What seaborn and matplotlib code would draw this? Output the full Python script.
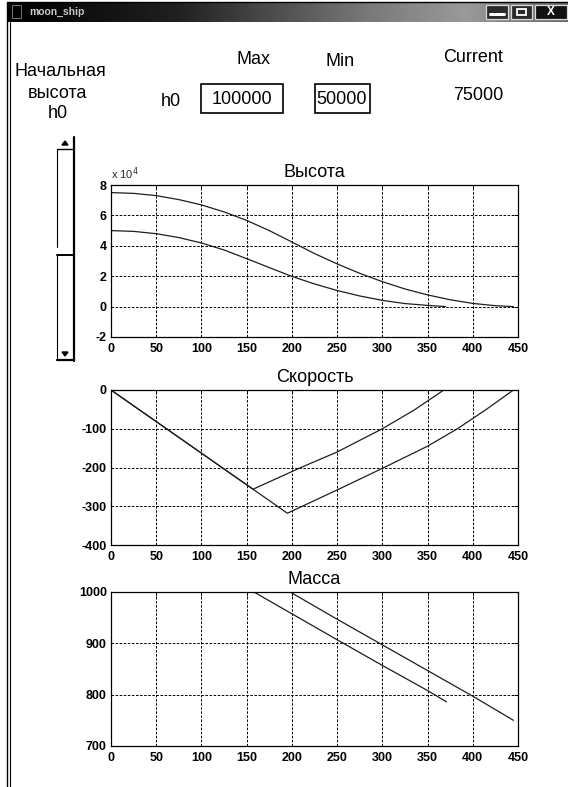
import matplotlib
matplotlib.use('Agg')
import matplotlib.pyplot as plt
from matplotlib.lines import Line2D
from matplotlib.patches import Rectangle, Polygon
from matplotlib.colors import LinearSegmentedColormap
import numpy as np
import seaborn as sns

# height, m (two runs: h0 = 75000 and h0 = 50000)
t_h_hi = [0, 25, 50, 75, 100, 125, 150, 175, 195, 225, 250, 275, 300, 325, 350, 375, 400, 425, 445]
h_hi = [75000, 74500, 73000, 70400, 66900, 62300, 56700, 50000, 44000, 34900, 28100,
        21900, 16400, 11600, 7700, 4500, 2100, 600, 0]
t_h_lo = [0, 25, 50, 75, 100, 125, 157, 180, 200, 225, 250, 275, 300, 325, 350, 370]
h_lo = [50000, 49490, 47960, 45420, 41850, 37270, 29910, 24500, 19870, 14900, 10600,
        7000, 4100, 2000, 800, 0]

# speed, m/s
t_v_hi = [0, 195, 250, 302, 350, 383, 415, 445]
v_hi = [0, -318, -258, -200, -145, -100, -50, 0]
t_v_lo = [0, 157, 210, 250, 300, 335, 368]
v_lo = [0, -256, -200, -160, -100, -52, 0]

# mass, kg
t_m_hi = [198, 250, 300, 350, 400, 445]
m_hi = [1000, 947, 897, 847, 797, 750]
t_m_lo = [158, 250, 300, 350, 371]
m_lo = [1000, 907, 857, 808, 786]

x_ticks = [0, 50, 100, 150, 200, 250, 300, 350, 400, 450]

sns.set_theme(style='white')
plt.rcParams['font.family'] = ['Liberation Sans', 'DejaVu Sans']

W, H = 568, 787
fig = plt.figure(figsize=(W / 100, H / 100), dpi=100)
fig.patch.set_facecolor('white')


def fx(x):
    return x / W


def fy(y):
    return 1 - y / H


def hline(x0, x1, y, lw=1.0, color='black'):
    fig.add_artist(Line2D([fx(x0), fx(x1)], [fy(y), fy(y)], lw=lw, color=color))


def vline(x, y0, y1, lw=1.0, color='black'):
    fig.add_artist(Line2D([fx(x), fx(x)], [fy(y0), fy(y1)], lw=lw, color=color))


def rect(x0, y0, x1, y1, **kw):
    fig.add_artist(Rectangle((fx(x0), fy(y1)), fx(x1) - fx(x0), fy(y0) - fy(y1),
                             transform=fig.transFigure, **kw))


# window chrome
bar = fig.add_axes([fx(8), fy(22), fx(W) - fx(8), fy(2) - fy(22)])
cmap = LinearSegmentedColormap.from_list(
    'bar', [(0, '#000000'), (0.3, '#202020'), (0.65, '#7a7a7a'), (0.82, '#9a9a9a'), (1, '#6a6a6a')])
bar.imshow(np.linspace(0, 1, 300)[None, :], aspect='auto', cmap=cmap, extent=[0, 1, 0, 1])
bar.set_axis_off()
rect(12, 5, 21, 18, facecolor='black', edgecolor='#888888', lw=0.6)
fig.text(fx(29), fy(11.5), 'moon_ship', fontsize=7.5, fontweight='bold', color='#c8c8c8',
         va='center', ha='left')
# title bar buttons
rect(486, 5, 508, 19, facecolor='#2a2a2a', edgecolor='#d8d8d8', lw=0.9)
hline(490, 504, 14, lw=2.2, color='white')
rect(511, 5, 532, 19, facecolor='#2a2a2a', edgecolor='#d8d8d8', lw=0.9)
rect(517, 9, 526, 15, facecolor='none', edgecolor='white', lw=1.3)
rect(535, 5, 567, 19, facecolor='#111111', edgecolor='#d8d8d8', lw=0.9)
fig.text(fx(551), fy(12), 'X', fontsize=8.5, fontweight='bold', color='white',
         va='center', ha='center')
hline(7, W, 2, lw=1.0)
vline(7, 2, H, lw=1.0)
vline(10, 22, H, lw=0.8)

# controls
txt = dict(fontsize=13, color='black', ha='center', va='center')
fig.text(fx(253), fy(60), 'Max', **txt)
fig.text(fx(340), fy(61), 'Min', **txt)
fig.text(fx(473), fy(58), 'Current', **txt)
fig.text(fx(60), fy(72), 'Начальная', **txt)
fig.text(fx(57), fy(93), 'высота', **txt)
fig.text(fx(58), fy(114), 'h0', **txt)
fig.text(fx(171), fy(101), 'h0', **txt)
rect(201, 84, 283, 113, facecolor='white', edgecolor='black', lw=1.2)
fig.text(fx(242), fy(99), '100000', **txt)
rect(315, 84, 370, 113, facecolor='white', edgecolor='black', lw=1.2)
fig.text(fx(342), fy(99), '50000', **txt)
fig.text(fx(478), fy(95), '75000', **txt)

# slider
vline(74, 137, 361, lw=1.6)
vline(57, 149, 247, lw=0.8)
vline(57, 255, 360, lw=0.8)
hline(57, 74, 149, lw=1.0)
hline(57, 74, 255, lw=1.4)
hline(57, 74, 360, lw=1.6)
fig.add_artist(Polygon([[fx(62), fy(145)], [fx(68), fy(145)], [fx(65), fy(141)]],
                       closed=True, color='black', transform=fig.transFigure))
fig.add_artist(Polygon([[fx(62), fy(352)], [fx(68), fy(352)], [fx(65), fy(356)]],
                       closed=True, color='black', transform=fig.transFigure))

line_kw = dict(color='#1e1e1e', linewidth=0.9, estimator=None, legend=False)
grid_kw = dict(color='black', linestyle=(0, (2.6, 1.6)), linewidth=0.7)


def style(ax, title, ylim, yticks, ylabels):
    ax.set_xlim(0, 450)
    ax.set_ylim(*ylim)
    ax.set_xticks(x_ticks)
    ax.set_xticklabels([str(v) for v in x_ticks])
    ax.set_yticks(yticks)
    ax.set_yticklabels(ylabels)
    ax.set_xlabel('')
    ax.set_ylabel('')
    ax.grid(True, **grid_kw)
    ax.set_axisbelow(True)
    ax.tick_params(direction='in', length=3, width=0.7, top=True, right=True,
                   labelsize=9, colors='black')
    ax.tick_params(axis='x', pad=4)
    ax.tick_params(axis='y', pad=3)
    for lab in ax.get_xticklabels() + ax.get_yticklabels():
        lab.set_fontweight('bold')
    for s in ax.spines.values():
        s.set_color('black')
        s.set_linewidth(0.9)
    ax.set_title(title, fontsize=13, pad=6, color='black')


left, width = fx(111), fx(518) - fx(111)

ax1 = fig.add_axes([left, fy(337), width, fy(185) - fy(337)])
sns.lineplot(x=t_h_hi, y=h_hi, ax=ax1, **line_kw)
sns.lineplot(x=t_h_lo, y=h_lo, ax=ax1, **line_kw)
h_ticks = [-20000, 0, 20000, 40000, 60000, 80000]
style(ax1, 'Высота', (-20000, 80000), h_ticks, [str(v // 10000) for v in h_ticks])
ax1.text(0.0, 1.02, 'x 10$^{4}$', transform=ax1.transAxes, fontsize=8, ha='left', va='bottom')

ax2 = fig.add_axes([left, fy(545), width, fy(390) - fy(545)])
sns.lineplot(x=t_v_hi, y=v_hi, ax=ax2, **line_kw)
sns.lineplot(x=t_v_lo, y=v_lo, ax=ax2, **line_kw)
v_ticks = [-400, -300, -200, -100, 0]
style(ax2, 'Скорость', (-400, 0), v_ticks, [str(v) for v in v_ticks])

ax3 = fig.add_axes([left, fy(746), width, fy(592) - fy(746)])
sns.lineplot(x=t_m_hi, y=m_hi, ax=ax3, **line_kw)
sns.lineplot(x=t_m_lo, y=m_lo, ax=ax3, **line_kw)
m_ticks = [700, 800, 900, 1000]
style(ax3, 'Масса', (700, 1000), m_ticks, [str(v) for v in m_ticks])

fig.savefig('out.png', dpi=100, facecolor='white')
